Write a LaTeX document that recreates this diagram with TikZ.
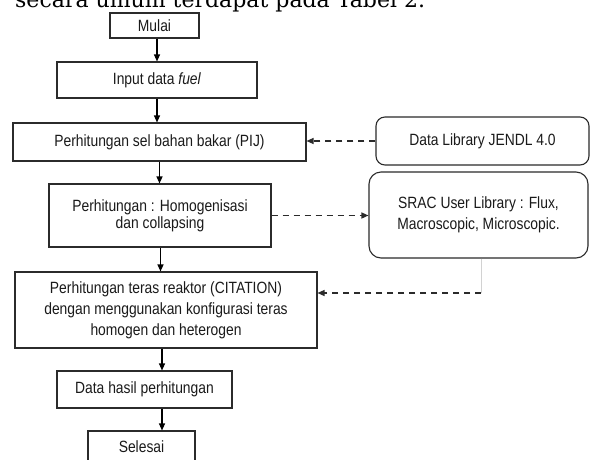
\documentclass[tikz,border=0pt]{standalone}
\usepackage{fontspec}
\setmainfont{Liberation Sans}[FakeStretch=0.85]
\newfontfamily\headserif{DejaVu Serif}
\usetikzlibrary{arrows.meta}
\definecolor{lineclr}{HTML}{2B2B2B}
\definecolor{txtclr}{HTML}{1A1A1A}
\begin{document}
\begin{tikzpicture}[x=1pt,y=-1pt,
  box/.style={draw=lineclr, line width=1.1pt, rectangle, inner sep=2pt, align=center,
    text=txtclr, font=\fontsize{16.3}{17}\selectfont},
  rbox/.style={box, rounded corners=9pt},
  arr/.style={draw=black, line width=1.1pt, -{Triangle[length=7pt,width=6pt]}},
  darr/.style={draw=lineclr, line width=1.3pt, dash pattern=on 6pt off 5pt, -{Triangle[length=7pt,width=6pt]}}]
\useasboundingbox (0,0) rectangle (590,459);
\clip (0,0) rectangle (590,459);
\fill[white] (0,0) rectangle (590,459);

% cut-off text line at top
\node[anchor=base west, inner sep=0pt] (head) at (15,7)
  {\resizebox{410pt}{!}{\headserif secara umum terdapat pada Tabel 2.}};

% main column
\node[box, minimum width=89pt, minimum height=25pt] (mulai) at (154.5,25.5) {Mulai};
\node[box, minimum width=200pt, minimum height=36pt] (input) at (157,80) {Input data \textit{fuel}};
\node[box, minimum width=293pt, minimum height=38pt] (pij) at (159.5,142) {Perhitungan sel bahan bakar (PIJ)};
\node[box, minimum width=222pt, minimum height=63pt] (homog) at (160,215.5)
  {Perhitungan : Homogenisasi\\dan collapsing};
\node[box, minimum width=302pt, minimum height=76pt, font=\fontsize{16.3}{21}\selectfont] (citation) at (166,310)
  {Perhitungan teras reaktor (CITATION)\\dengan menggunakan konfigurasi teras\\homogen dan heterogen};
\node[box, minimum width=175pt, minimum height=37pt] (hasil) at (144.5,389.5) {Data hasil perhitungan};
\node[box, minimum width=107pt, minimum height=32pt] (selesai) at (141.5,447) {Selesai};

% right column
\node[rbox, minimum width=213pt, minimum height=48pt] (jendl) at (482.5,141) {Data Library JENDL 4.0};
\node[rbox, rounded corners=12pt, minimum width=219pt, minimum height=86pt, font=\fontsize{16.3}{21}\selectfont] (srac) at (478.5,215)
  {SRAC User Library : Flux,\\Macroscopic, Microscopic.};

% helper coordinates for the arrow columns
\coordinate (a1) at (157,0);
\coordinate (a2) at (157,0);
\coordinate (a3) at (159.5,0);
\coordinate (a4) at (160.5,0);
\coordinate (a5) at (162,0);
\coordinate (a6) at (162,0);
\coordinate (sx) at (481,0);
\coordinate (bend) at (481,293);

% solid arrows
\draw[arr] (mulai.south -| a1) -- (input.north -| a1);
\draw[arr] (input.south -| a2) -- (pij.north -| a2);
\draw[arr] (pij.south -| a3) -- (homog.north -| a3);
\draw[arr] (homog.south -| a4) -- (citation.north -| a4);
\draw[arr] (citation.south -| a5) -- (hasil.north -| a5);
\draw[arr] (hasil.south -| a6) -- (selesai.north -| a6);

% dashed arrows
\draw[darr] (jendl.west) -- (jendl.west -| pij.east);
\draw[darr] (homog.east) -- (homog.east -| srac.west);
\draw[gray!35, line width=0.8pt] (srac.south -| sx) -- (bend);
\draw[darr] (bend) -- (bend -| citation.east);
\end{tikzpicture}
\end{document}
